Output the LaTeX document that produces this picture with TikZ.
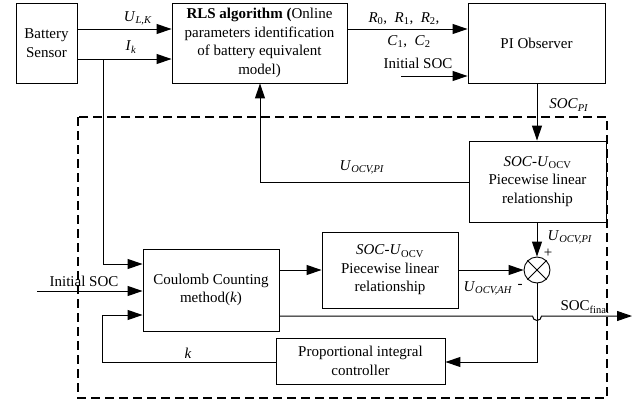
\documentclass[tikz,border=0pt]{standalone}
\usepackage{fontspec}
\setmainfont{Liberation Serif}
\usetikzlibrary{arrows.meta,calc}
\newcommand\isub[2]{\textit{#1}\textsubscript{#2}}
\begin{document}
\begin{tikzpicture}[x=1pt,y=-1pt,
  every node/.style={font=\fontsize{15}{18.5}\selectfont},
  blk/.style={draw,line width=0.9pt,align=center,inner sep=0pt},
  ln/.style={line width=1pt},
  arr/.style={line width=1pt,-{Triangle[length=15pt,width=10pt]}},
  lbl/.style={inner sep=0pt}]
\useasboundingbox (0,0) rectangle (643,405);
% dashed box
\draw[line width=1.1pt,dash pattern=on 9pt off 5pt] (78,117) rectangle (607,398);
% blocks
\node[blk,minimum width=61,minimum height=80] (bat) at (46.5,43) {Battery\\Sensor};
\node[blk,minimum width=175,minimum height=80] (rls) at (259.5,43) {\textbf{RLS algorithm (}Online\\parameters identification\\of battery equivalent\\model)};
\node[blk,minimum width=137,minimum height=80] (pio) at (536.5,43) {PI Observer};
\node[blk,minimum width=137,minimum height=81] (socu) at (537.5,181.5) {\textit{SOC}-\textit{U}\textsubscript{OCV}\\Piecewise linear\\relationship};
\node[blk,minimum width=136,minimum height=82] (cc) at (211,290) {Coulomb Counting\\method(\textit{k})};
\node[blk,minimum width=136,minimum height=76] (socl) at (390,270) {\textit{SOC}-\textit{U}\textsubscript{OCV}\\Piecewise linear\\relationship};
\node[blk,minimum width=169,minimum height=46] (pic) at (360.5,361) {Proportional integral\\controller};
\node[draw,circle,line width=0.9pt,minimum size=26,inner sep=0pt] (sum) at (537,270) {};
\draw[line width=0.9pt] (sum.north west) -- (sum.south east) (sum.north east) -- (sum.south west);
% coordinates
\coordinate (iniA) at (401,76);
\coordinate (iniB) at (37,291);
\coordinate (out) at (632,316);
% connectors
\draw[arr] (bat.east|-0,29) -- (rls.west|-0,29);
\draw[arr] (bat.east|-0,59) -- (rls.west|-0,59);
\draw[arr] (103,59) -- (103,264) -- (cc.west|-0,264);
\draw[arr] (rls.east|-0,29) -- (pio.west|-0,29);
\draw[arr] (iniA) -- (pio.west|-iniA);
\draw[arr] (pio.south-|537,0) -- (socu.north-|537,0);
\draw[arr] (socu.west|-0,182) -- (260,182) -- (rls.south-|260,0);
\draw[arr] (socu.south-|sum.north) -- (sum.north);
\draw[arr] (cc.east|-socl.west) -- (socl.west);
\draw[arr] (socl.east) -- (sum.west);
\draw[arr] (iniB) -- (cc.west|-iniB);
\draw[arr] (sum.south) -- (537,362) -- (pic.east|-0,362);
\draw[arr] (pic.west|-0,362) -- (102,362) -- (102,315) -- (cc.west|-0,315);
\draw[arr] (cc.east|-0,316) -- (532.5,316) arc[start angle=180,end angle=0,radius=4.5] -- (out);
% labels
\node[lbl] at (138,18) {\isub{U}{\textit{L,K}}};
\node[lbl] at (131,47) {\isub{I}{\textit{k}}};
\node[lbl] at (404,19) {\isub{R}{0},\ \ \isub{R}{1},\ \ \isub{R}{2},};
\node[lbl] at (409,42) {\isub{C}{1},\ \ \isub{C}{2}};
\node[lbl] at (418,63) {Initial SOC};
\node[lbl] at (569,105) {\isub{SOC}{\textit{PI}}};
\node[lbl] at (362,167) {\isub{U}{\textit{OCV,PI}}};
\node[lbl] at (570,237) {\isub{U}{\textit{OCV,PI}}};
\node[lbl] at (548,253) {+};
\node[lbl] at (488,288) {\isub{U}{\textit{OCV,AH}}};
\node[lbl] at (520,286) {-};
\node[lbl] at (585,307) {SOC\textsubscript{final}};
\node[lbl] at (84,281) {Initial SOC};
\node[lbl] at (188,353) {\textit{k}};
\end{tikzpicture}
\end{document}
